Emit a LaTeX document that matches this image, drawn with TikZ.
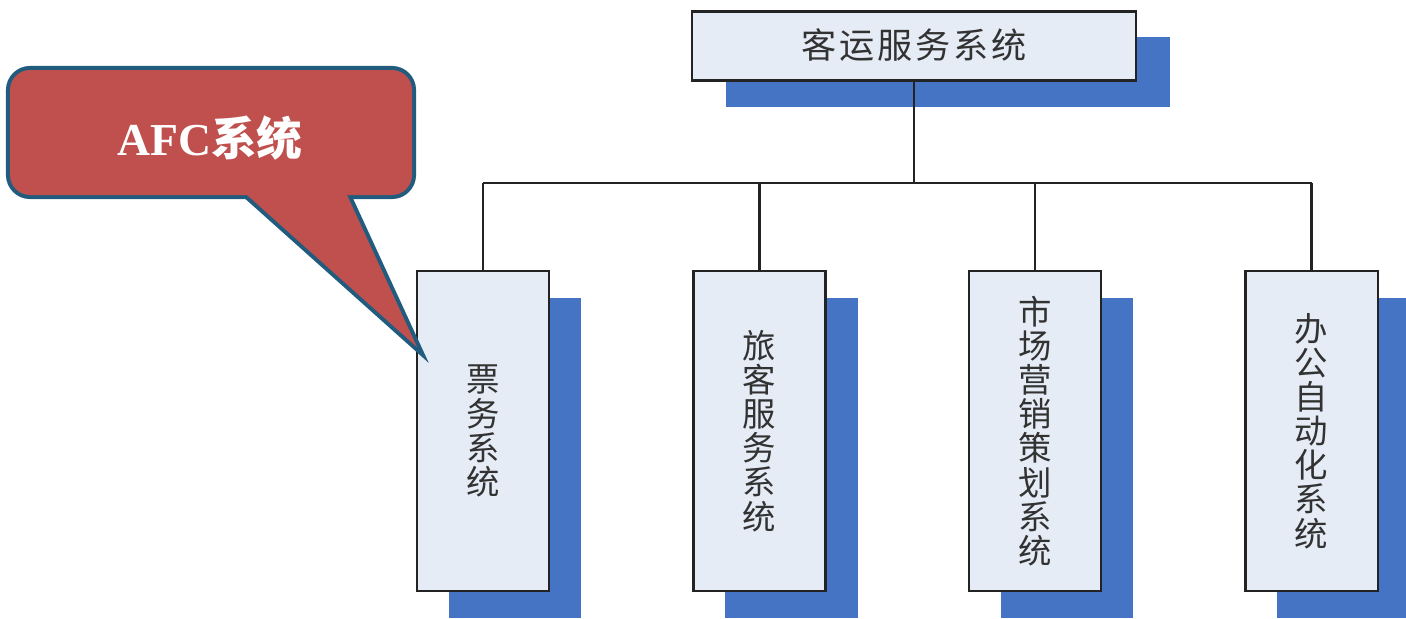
\documentclass[tikz,border=0pt]{standalone}
\usepackage{fontspec}
\newfontfamily\cjk{Noto Sans CJK SC}
\newfontfamily\afcfont{Liberation Serif}
\usetikzlibrary{shadows}
\usepackage{xcolor}
\definecolor{boxfill}{RGB}{230,236,246}
\definecolor{boxline}{RGB}{35,35,35}
\definecolor{shadowblue}{RGB}{70,116,196}
\definecolor{calloutred}{RGB}{192,80,77}
\definecolor{calloutedge}{RGB}{33,92,126}
\definecolor{textgray}{RGB}{50,50,50}
\tikzset{
  sysbox/.style={draw=boxline, line width=0.6pt, fill=boxfill, inner sep=0pt,
    align=center, text=textgray},
  subbox/.style={sysbox, minimum width=1.32cm, minimum height=3.2cm,
    font=\cjk\fontsize{9.5}{9.7}\selectfont,
    general shadow={fill=shadowblue, shadow xshift=0.32cm, shadow yshift=-0.27cm}},
  topbox/.style={sysbox, minimum width=4.44cm, minimum height=0.69cm,
    font=\cjk\fontsize{10}{12}\selectfont\addfontfeatures{LetterSpace=8},
    general shadow={fill=shadowblue, shadow xshift=0.34cm, shadow yshift=-0.26cm}},
  wire/.style={draw=boxline, line width=0.65pt},
}

\begin{document}
\begin{tikzpicture}[x=0.01cm,y=-0.01cm]
        \useasboundingbox (0,0) rectangle (1406,618);
        \clip (0,0) rectangle (1406,618);
        % boxes
        \node[topbox] (top) at (914,46) {\raisebox{1.6pt}{客运服务系统}};
        \node[subbox] (b1) at (483,431) {票\\务\\系\\统};
        \node[subbox] (b2) at (759.5,431) {旅\\客\\服\\务\\系\\统};
        \node[subbox] (b3) at (1035,431) {市\\场\\营\\销\\策\\划\\系\\统};
        \node[subbox] (b4) at (1311.5,431) {办\\公\\自\\动\\化\\系\\统};
        % tree lines
        \coordinate (bus) at (914,183);
        \draw[wire] (top.south) -- (bus);
        \draw[wire] (b1.north |- bus) -- (b4.north |- bus);
        \foreach \n in {b1,b2,b3,b4}
          \draw[wire] (\n.north |- bus) -- (\n.north);
        % callout
        \coordinate (tip) at (417,347);
        \draw[calloutedge, line width=2.3pt, rounded corners=0.2cm] (10,70) rectangle (412,195);
        \draw[calloutedge, line width=2.3pt] (247,195) -- (tip) -- (347,195) -- cycle;
        \fill[calloutred, rounded corners=0.2cm] (10,70) rectangle (412,195);
        \fill[calloutred] (247,195) -- (tip) -- (347,195) -- cycle;
        \node[text=white, font=\fontsize{13}{15}\selectfont] (afc) at (210,138)
          {{\afcfont\bfseries AFC}{\cjk\bfseries 系统}};
    \end{tikzpicture}
\end{document}
